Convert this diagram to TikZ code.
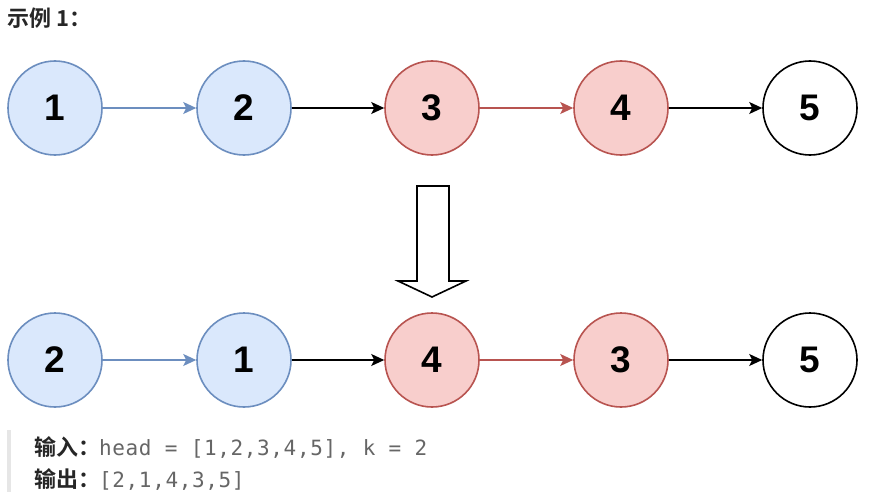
\documentclass[tikz,border=0pt]{standalone}
\usepackage{fontspec}
\setmainfont{Liberation Sans}
\newfontfamily\cjk{Noto Sans CJK SC}[BoldFont={* Bold}]
\newfontfamily\monof{DejaVu Sans Mono}[LetterSpace=3]
\usetikzlibrary{arrows.meta}
\definecolor{bfill}{HTML}{DAE8FC}
\definecolor{bline}{HTML}{6C8EBF}
\definecolor{rfill}{HTML}{F8CECC}
\definecolor{rline}{HTML}{B85450}
\definecolor{txtgray}{HTML}{666666}
\definecolor{bargray}{HTML}{E6E6E6}
\tikzset{
  nd/.style={circle, minimum size=94pt, inner sep=0pt, line width=1.6pt, font=\fontsize{37}{37}\selectfont\bfseries},
  bnode/.style={nd, draw=bline, fill=bfill},
  rnode/.style={nd, draw=rline, fill=rfill},
  wnode/.style={nd, draw=black, fill=white},
  lnk/.style={line width=1.6pt, -{Stealth[length=13pt,width=12pt,inset=3pt]}},
  cjklbl/.style={anchor=base west, inner sep=0pt, font=\cjk\bfseries\fontsize{22}{22}\selectfont, text=black!85},
  monolbl/.style={anchor=base west, inner sep=0pt, font=\monof\fontsize{21}{21}\selectfont, text=txtgray},
}
\begin{document}
\begin{tikzpicture}[x=1pt,y=-1pt]
\useasboundingbox (0,0) rectangle (872,492);
\fill[white] (0,0) rectangle (872,492);
% title
\node[cjklbl, anchor=west] (title) at (7,18) {示例 1：};
% top row
\node[bnode] (a1) at (55,108) {1};
\node[bnode] (a2) at (244,108) {2};
\node[rnode] (a3) at (432,108) {3};
\node[rnode] (a4) at (621,108) {4};
\node[wnode] (a5) at (810,108) {5};
\draw[lnk, bline] (a1) -- (a2);
\draw[lnk, black] (a2) -- (a3);
\draw[lnk, rline] (a3) -- (a4);
\draw[lnk, black] (a4) -- (a5);
% down arrow
\draw[line width=1.6pt, fill=white, line join=miter] (417,186) -- (449,186) -- (449,281) -- (466,281) -- (432,297) -- (398,281) -- (417,281) -- cycle;
% bottom row
\node[bnode] (b1) at (55,360) {2};
\node[bnode] (b2) at (244,360) {1};
\node[rnode] (b3) at (432,360) {4};
\node[rnode] (b4) at (621,360) {3};
\node[wnode] (b5) at (810,360) {5};
\draw[lnk, bline] (b1) -- (b2);
\draw[lnk, black] (b2) -- (b3);
\draw[lnk, rline] (b3) -- (b4);
\draw[lnk, black] (b4) -- (b5);
% code block
\fill[bargray] (7,430) rectangle (11,492);
\node[cjklbl] (in) at (34,455) {输入：};
\node[monolbl] (inv) at (99,455) {head = [1,2,3,4,5], k = 2};
\node[cjklbl] (out) at (34,487) {输出：};
\node[monolbl] (outv) at (99,487) {[2,1,4,3,5]};
\end{tikzpicture}
\end{document}
